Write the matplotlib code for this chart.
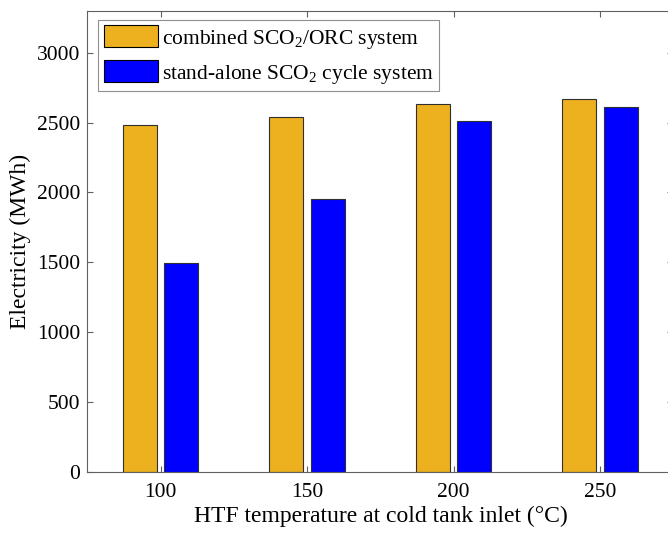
import matplotlib
matplotlib.use('Agg')
import matplotlib.pyplot as plt
import numpy as np

plt.rcParams.update({
    "font.family": "serif",
    "font.serif": ["Liberation Serif"],
    "mathtext.fontset": "custom",
    "mathtext.rm": "Liberation Serif",
    "mathtext.it": "Liberation Serif:italic",
})

# data
temps = [100, 150, 200, 250]
combined = [2484, 2537, 2634, 2670]
standalone = [1497, 1950, 2514, 2609]
labels = ['combined SCO$_2$/ORC system', 'stand-alone SCO$_2$ cycle system']

fig = plt.figure(figsize=(6.68, 5.33), dpi=100)
ax = fig.add_axes([0.1307, 0.1144, 0.8775, 0.8655])

x = np.array(temps, dtype=float)
w = 11.6
off = 7.1
ax.bar(x - off, combined, w, color='#EDB120', edgecolor='#303030', linewidth=0.8, label=labels[0])
ax.bar(x + off, standalone, w, color='#0000FF', edgecolor='#303030', linewidth=0.8, label=labels[1])

ax.set_xlim(75, 275)
ax.set_ylim(0, 3300)
ax.set_xticks(temps)
ax.set_yticks(range(0, 3001, 500))
ax.tick_params(direction='in', top=True, right=True, length=4, width=0.8,
               color='#606060', labelsize=15.5)
ax.tick_params(axis='y', pad=5)
ax.tick_params(axis='x', pad=8)
for s in ax.spines.values():
    s.set_color('#606060')
    s.set_linewidth(0.8)

ax.set_xlabel('HTF temperature at cold tank inlet (°C)', fontsize=17, labelpad=3)
ax.set_ylabel('Electricity (MWh)', fontsize=17, labelpad=4)

leg = ax.legend(loc='upper left', bbox_to_anchor=(0.0188, 0.98), borderaxespad=0,
                fontsize=15.5, handlelength=2.5, handleheight=1.2, handletextpad=0.2,
                labelspacing=0.45, borderpad=0.25, fancybox=False, framealpha=1)
leg.get_frame().set_edgecolor('#909090')
leg.get_frame().set_linewidth(0.8)
for p in leg.get_patches():
    p.set_edgecolor('black')

fig.savefig('out.png', dpi=100)
